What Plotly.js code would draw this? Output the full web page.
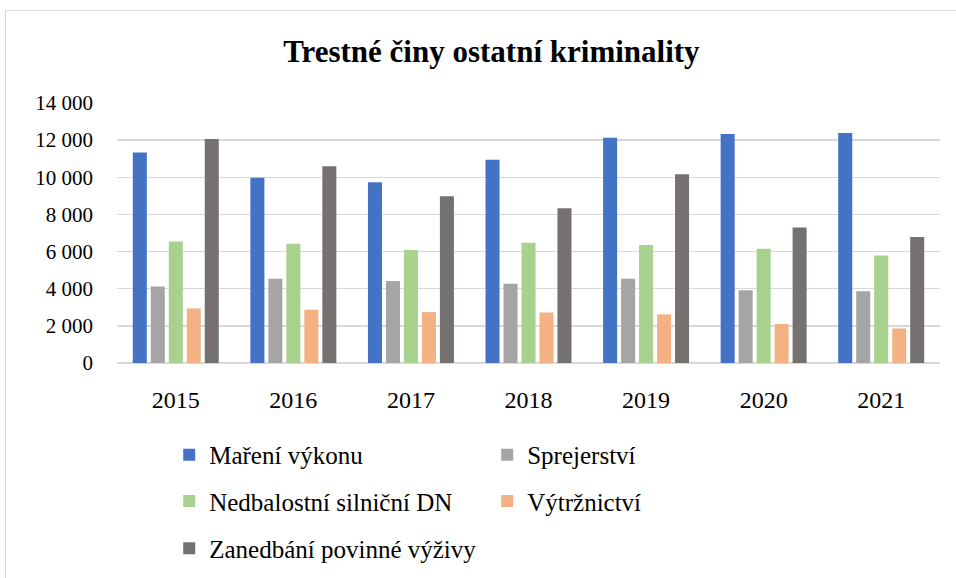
<!DOCTYPE html>
<html><head><meta charset="utf-8">
<script src="https://cdn.plot.ly/plotly-3.0.1.min.js"></script>
<style>
html,body{margin:0;padding:0;background:#fff;overflow:hidden;}
#wrap{position:relative;width:956px;height:578px;}
#chart{position:absolute;left:0;top:0;width:956px;height:578px;}
#frame{position:absolute;left:5px;top:10px;width:960px;height:580px;border:1px solid #d9d9d9;pointer-events:none;}
</style></head>
<body><div id="wrap"><div id="chart"></div><div id="frame"></div></div>
<script>
const years = ['2015','2016','2017','2018','2019','2020','2021'];
const mareniVykonu = [11330, 9980, 9730, 10950, 12130, 12330, 12380];
const sprejerstvi = [4120, 4530, 4410, 4270, 4530, 3920, 3870];
const nedbalostni = [6540, 6420, 6080, 6470, 6360, 6150, 5790];
const vytrznictvi = [2940, 2870, 2740, 2720, 2620, 2100, 1860];
const zanedbani = [12060, 10590, 8980, 8330, 10160, 7290, 6790];
const seriesNames = ['Maření výkonu','Sprejerství','Nedbalostní silniční DN','Výtržnictví','Zanedbání povinné výživy'];
const colors = ['#4472C4','#A5A5A5','#A9D18E','#F4B183','#767171'];
const values = [mareniVykonu, sprejerstvi, nedbalostni, vytrznictvi, zanedbani];
const legends = ['legend','legend','legend2','legend2','legend3'];

const FONT = 'Liberation Serif, Times New Roman, serif';
const traces = values.map((v,i)=>({
  type:'bar', x:years, y:v, name:seriesNames[i], legend:legends[i],
  marker:{color:colors[i], line:{width:0}},
  hovertemplate:'%{y}<extra></extra>'
}));

function leg(y){
  return {orientation:'h', xref:'container', x:0.177, xanchor:'left', yref:'container', y:y, yanchor:'middle',
    entrywidth:273, entrywidthmode:'pixels', itemwidth:30,
    font:{family:FONT, size:25, color:'#000'}, bgcolor:'rgba(0,0,0,0)', traceorder:'normal'};
}

const layout = {
  width:956, height:578,
  margin:{l:117, r:16, t:103, b:215, autoexpand:false},
  paper_bgcolor:'#fff', plot_bgcolor:'#fff',
  separators:', ',
  font:{family:FONT, color:'#000'},
  title:{text:'<b>Trestné činy ostatní kriminality</b>', xref:'container', x:0.514, xanchor:'center', yref:'container', y:0.912, yanchor:'middle', font:{family:FONT, size:31, color:'#000'}},
  barmode:'group', bargap:0.235, bargroupgap:0.22,
  xaxis:{type:'category', showgrid:false, showline:false, zeroline:false, ticks:'', ticklabelstandoff:20, tickfont:{family:FONT, size:24, color:'#000'}},
  yaxis:{range:[0,14000], dtick:2000, tickformat:',d', showgrid:true, gridcolor:'#d9d9d9', gridwidth:1.5, zeroline:true, zerolinecolor:'#d9d9d9', zerolinewidth:1.5, showline:false, ticks:'', ticklabelstandoff:23, tickfont:{family:FONT, size:21, color:'#000'}},
  showlegend:true,
  legend:leg(0.213), legend2:leg(0.133), legend3:leg(0.051)
};
Plotly.newPlot('chart', traces, layout, {displayModeBar:false, staticPlot:true});
</script></body></html>
